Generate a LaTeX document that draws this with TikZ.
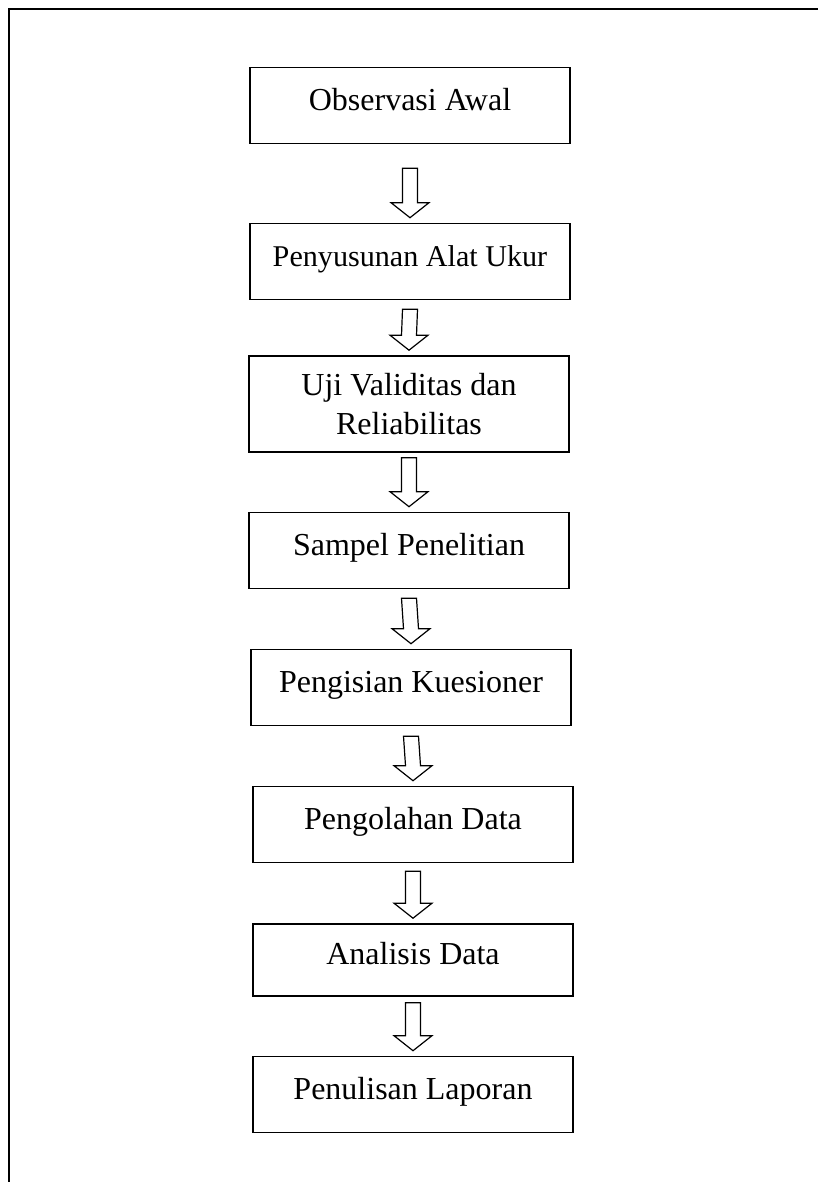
\documentclass[tikz,border=0pt]{standalone}
\usepackage{fontspec}
\setmainfont{Liberation Serif}
\usetikzlibrary{calc}
\tikzset{
  stepbox/.style={draw, line width=0.6pt, minimum width=120pt, minimum height=28.5pt, inner sep=0pt, align=center, font=\fontsize{12}{14.3}\selectfont},
  onerow/.style={stepbox, text height=0.7em, text depth=0.35em},
  hollow/.style={draw, line width=0.45pt, line join=miter}
}
% hollow block arrow between two boxes: #3 = gap under the upper box
\newcommand{\flowarrow}[3]{%
  \draw[hollow] ($(#1.south)+(-7.5,#3)$) -- ($(#2.north)+(-7.5,-20)$) -- ++(-11.5,0)
    -- ($(#2.north)+(0,-5)$) -- ($(#2.north)+(19,-20)$) -- ++(-11.5,0)
    -- ($(#1.south)+(7.5,#3)$) -- cycle;}

\begin{document}
\begin{tikzpicture}[x=0.375pt, y=-0.375pt]
  \useasboundingbox (0,0) rectangle (817,1182);

  \draw[line width=0.75pt] (9,1200) -- (9,9) -- (830,9);

  \node[onerow] (obs) at (410,105.5) {Observasi Awal};
  \node[onerow, font=\fontsize{11.3}{13.5}\selectfont] (alat) at (410,261.5) {Penyusunan Alat Ukur};
  \node[stepbox, minimum height=36pt] (uji) at (409,404) {Uji Validitas dan\\Reliabilitas};
  \node[onerow] (sampel) at (409,550.5) {Sampel Penelitian};
  \node[onerow] (isi) at (411,687.5) {Pengisian Kuesioner};
  \node[onerow] (olah) at (413,824.5) {Pengolahan Data};
  \node[onerow, minimum height=27pt] (analisis) at (413,960) {Analisis Data};
  \node[onerow] (lapor) at (413,1094.5) {Penulisan Laporan};

  \flowarrow{obs}{alat}{24}
  \flowarrow{alat}{uji}{9}
  \flowarrow{uji}{sampel}{5}
  \flowarrow{sampel}{isi}{9}
  \flowarrow{isi}{olah}{10}
  \flowarrow{olah}{analisis}{8}
  \flowarrow{analisis}{lapor}{6}
\end{tikzpicture}
\end{document}
